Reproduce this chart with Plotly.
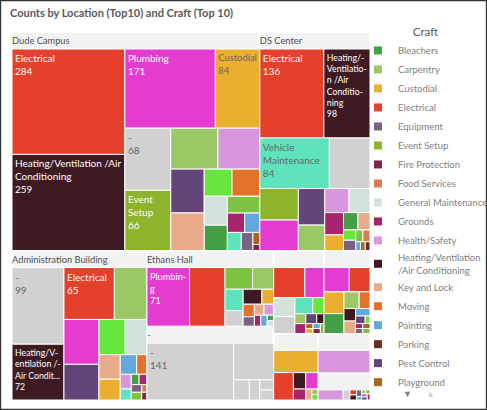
""" Treemap of work order counts by location and craft """

import plotly.graph_objects as go

HVAC = "Heating/Ventilation/Air Conditioning"

locations = ["Dude Campus", "DS Center", "Administration Building", "Ethans Hall", "-",
             "Location 6", "Location 7", "Location 8", "Location 9", "Location 10"]

dude_crafts = ["Electrical", HVAC, "Plumbing", "Custodial", "-", "Event Setup", "Carpentry",
               "Health/Safety", "Pest Control", "Key and Lock", "Roofing", "Moving",
               "General Maintenance", "Bleachers", "Landscaping", "Grounds", "Painting",
               "Vehicle Maintenance", "Equipment", "Playground", "Fire Protection"]
dude_counts = [284, 259, 171, 84, 68, 66, 46, 41, 35, 30, 18, 18, 16, 14, 13, 8, 7, 6, 5, 2, 1]

ds_crafts = ["Electrical", HVAC, "Vehicle Maintenance", "-", "Event Setup", "Plumbing",
             "Pest Control", "Carpentry", "Health/Safety", "General Maintenance", "Grounds",
             "Custodial", "Bleachers", "Key and Lock", "Roofing", "Equipment", "Landscaping",
             "Food Services", "Painting", "Playground", "Parking"]
ds_counts = [136, 98, 84, 49, 29, 28, 23, 16, 14, 12, 10, 7, 6, 5, 3, 3, 2, 2, 1, 1, 1]

admin_crafts = ["-", HVAC, "Electrical", "Carpentry", "Plumbing", "Pest Control", "Roofing",
                "General Maintenance", "Key and Lock", "Custodial", "Painting", "Moving",
                "Health/Safety", "Vehicle Maintenance", "Bleachers", "Grounds", "Equipment",
                "Landscaping", "Food Services", "Fire Protection"]
admin_counts = [99, 72, 65, 42, 39, 31, 23, 19, 13, 11, 8, 5, 4, 3, 2, 2, 2, 2, 1, 1]

ethans_crafts = ["Plumbing", "Electrical", "Landscaping", "Carpentry", "Vehicle Maintenance",
                 "-", HVAC, "Custodial", "Moving", "Equipment", "Key and Lock", "Health/Safety",
                 "Grounds", "Painting", "Bleachers", "General Maintenance"]
ethans_counts = [71, 59, 17, 13, 11, 8, 8, 5, 4, 3, 3, 3, 2, 2, 1, 1]

blank_crafts = ["-", "Electrical", "Plumbing", HVAC, "Custodial", "Carpentry"]
blank_counts = [141, 42, 9, 6, 4, 4]

loc6_crafts = ["Electrical", "Plumbing", "General Maintenance", "-", "Vehicle Maintenance",
               "Roofing", "Carpentry", "Grounds", "Pest Control", HVAC, "Playground",
               "Custodial", "Painting", "Fire Protection", "Event Setup"]
loc6_counts = [26, 16, 11, 10, 8, 5, 3, 3, 3, 2, 1, 1, 1, 1, 1]

loc7_crafts = ["Plumbing", "Electrical", "Custodial", "Bleachers", "Carpentry", "Moving",
               HVAC, "Key and Lock", "Painting", "Pest Control", "Roofing", "Grounds",
               "Equipment", "Playground", "Landscaping"]
loc7_counts = [17, 14, 12, 11, 7, 5, 4, 4, 3, 2, 1, 1, 1, 1, 1]

loc8_crafts = ["Custodial", "Electrical", HVAC, "Plumbing", "Grounds", "Key and Lock",
               "Carpentry", "Roofing"]
loc8_counts = [29, 16, 6, 6, 4, 2, 1, 1]

loc9_crafts = ["Health/Safety"]
loc9_counts = [45]

loc10_crafts = ["Health/Safety", "-", "Electrical", HVAC, "Equipment", "Painting",
                "Carpentry", "Landscaping", "Plumbing", "Pest Control", "Grounds"]
loc10_counts = [15, 4, 2, 2, 2, 1, 1, 1, 1, 1, 1]

location_data = [(dude_crafts, dude_counts), (ds_crafts, ds_counts),
                 (admin_crafts, admin_counts), (ethans_crafts, ethans_counts),
                 (blank_crafts, blank_counts), (loc6_crafts, loc6_counts),
                 (loc7_crafts, loc7_counts), (loc8_crafts, loc8_counts),
                 (loc9_crafts, loc9_counts), (loc10_crafts, loc10_counts)]

# headers that qlik had room to print
shown_headers = ["Dude Campus", "DS Center", "Administration Building", "Ethans Hall", "-"]

# tiles that qlik had room to label (wrapped like qlik does)
tile_labels = {
    ("Dude Campus", "Electrical"): "Electrical",
    ("Dude Campus", HVAC): "Heating/Ventilation /Air<br>Conditioning",
    ("Dude Campus", "Plumbing"): "Plumbing",
    ("Dude Campus", "Custodial"): "Custodial",
    ("Dude Campus", "-"): "-",
    ("Dude Campus", "Event Setup"): "Event<br>Setup",
    ("DS Center", "Electrical"): "Electrical",
    ("DS Center", HVAC): "Heating/-<br>Ventilatio-<br>n /Air<br>Conditio-<br>ning",
    ("DS Center", "Vehicle Maintenance"): "Vehicle<br>Maintenance",
    ("Administration Building", "-"): "-",
    ("Administration Building", "Electrical"): "Electrical",
    ("Administration Building", HVAC): "Heating/V-<br>entilation /-<br>Air Condit...",
    ("Ethans Hall", "Plumbing"): "Plumbin-<br>g",
    ("-", "-"): "-",
}

legend_crafts = ["Bleachers", "Carpentry", "Custodial", "Electrical", "Equipment", "Event Setup",
                 "Fire Protection", "Food Services", "General Maintenance", "Grounds",
                 "Health/Safety", HVAC, "Key and Lock", "Moving", "Painting", "Parking",
                 "Pest Control", "Playground"]

CRAFT_COLORS = {"Bleachers": "#43a047", "Carpentry": "#9bc865", "Custodial": "#eaaf2f",
                "Electrical": "#e4402c", "Equipment": "#7a6282", "Event Setup": "#8db42a",
                "Fire Protection": "#802549", "Food Services": "#e0785a",
                "General Maintenance": "#d2e2da", "Grounds": "#a8246c",
                "Health/Safety": "#d897dc", HVAC: "#3e1b22", "Key and Lock": "#e8aa88",
                "Moving": "#e2722a", "Painting": "#63a8dd", "Parking": "#6e2b1f",
                "Pest Control": "#644579", "Playground": "#a6661b", "Plumbing": "#e53bd0",
                "Vehicle Maintenance": "#5fe3bd", "Roofing": "#66e63c",
                "Landscaping": "#7cc243", "-": "#d1d1d1"}
NULL_COLOR = "#d1d1d1"
HEADER_COLOR = "#f2f2f2"
FONT = "Lato"

# page geometry (px)
W, H = 487, 410
ML, MR, MT, MB = 12, 0, 15, 10   # top margin leaves room for the hidden root's header
PW, PH = W - ML - MR, H - MT - MB


def px_x(x):
    return (x - ML) / PW


def px_y(y):
    return 1 - (y - MT) / PH


def text_color(hex_color):
    r, g, b = (int(hex_color[i:i + 2], 16) for i in (1, 3, 5))
    lum = 0.299 * r + 0.587 * g + 0.114 * b
    return "#ffffff" if lum < 165 else "#666666"


ids, labels, names, parents, values, colors = [], [], [], [], [], []
texts, tcolors, tsizes, lwidths = [], [], [], []
for loc, (crafts, counts) in zip(locations, location_data):
    # qlik had no room for the header of the small locations
    shown = loc if loc in shown_headers else " "
    ids.append("loc:" + loc)
    labels.append(shown)
    names.append(loc)
    parents.append("")
    values.append(0)
    colors.append(HEADER_COLOR)
    texts.append(shown)
    tcolors.append("#505050")
    tsizes.append(11)
    lwidths.append(2)
    for craft, n in zip(crafts, counts):
        col = NULL_COLOR if loc == "-" else CRAFT_COLORS[craft]
        ids.append(loc + "/" + craft)
        labels.append(craft)
        names.append(loc + " / " + craft)
        parents.append("loc:" + loc)
        values.append(n)
        colors.append(col)
        lab = tile_labels.get((loc, craft))
        texts.append(f"{lab}<br>{n}" if lab else " ")
        tcolors.append(text_color(col))
        tsizes.append(10)
        lwidths.append(1)

fig = go.Figure()
fig.add_trace(go.Treemap(
    ids=ids, labels=labels, parents=parents, values=values, customdata=names,
    branchvalues="remainder", sort=True,
    text=texts, texttemplate="%{text}", textposition="top left",
    textfont=dict(family=FONT, color=tcolors, size=tsizes),
    marker=dict(colors=colors, line=dict(color="#ffffff", width=lwidths),
                pad=dict(t=17, l=0, r=0, b=0)),
    tiling=dict(packing="squarify", pad=0),
    pathbar=dict(visible=False),
    hovertemplate="%{customdata}<br>%{value}<extra></extra>",
    domain=dict(x=[0, px_x(370)], y=[0, 1]),
))

# legend entries (qlik shows the first page of the craft legend)
for craft in legend_crafts:
    name = "Heating/Ventilation<br>/Air Conditioning" if craft == HVAC else craft
    fig.add_trace(go.Scatter(x=[None], y=[None], mode="markers", name=name,
                             marker=dict(symbol="square", size=8, color=CRAFT_COLORS[craft])))

fig.add_annotation(x=px_x(414), y=px_y(401), xref="paper", yref="paper",
                   text="▼", showarrow=False, font=dict(size=9, color="#7f7f7f"))
fig.add_annotation(x=px_x(437), y=px_y(401), xref="paper", yref="paper",
                   text="▲", showarrow=False, font=dict(size=9, color="#d0d0d0"))

# object frame
fig.add_shape(type="rect", xref="paper", yref="paper",
              x0=px_x(0.6), x1=px_x(W - 0.6), y0=px_y(H - 0.6), y1=px_y(0.6),
              line=dict(color="#333333", width=1.2))

fig.update_layout(
    width=W, height=H,
    margin=dict(l=ML, r=MR, t=MT, b=MB, autoexpand=False),
    paper_bgcolor="#ffffff", plot_bgcolor="#ffffff",
    font=dict(family=FONT, color="#808080"),
    showlegend=True,
    title=dict(text="<b>Counts by Location (Top10) and Craft (Top 10)</b>",
               x=10 / W, xanchor="left", y=1 - 13 / H, yanchor="middle",
               font=dict(family=FONT, size=11, color="#595959")),
    xaxis=dict(visible=False), yaxis=dict(visible=False),
    legend=dict(x=px_x(358), xanchor="left", y=px_y(21), yanchor="top",
                maxheight=380,
                title=dict(text="Craft", side="top center",
                           font=dict(size=11.5, color="#595959")),
                font=dict(size=9.5, color="#808080"),
                itemclick=False, bgcolor="rgba(0,0,0,0)"),
)

fig.write_html("out.html", config={"displayModeBar": False},
               post_script="document.body.style.margin='0';")
